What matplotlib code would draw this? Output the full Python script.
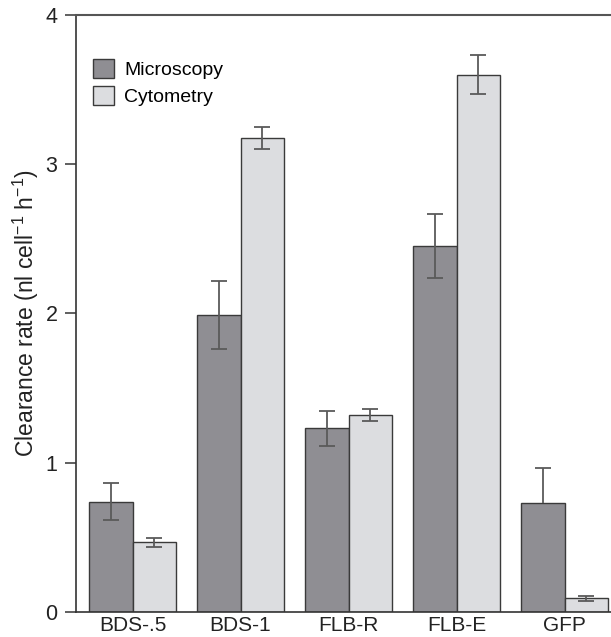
import matplotlib
matplotlib.use('Agg')
import matplotlib.pyplot as plt
import numpy as np

plt.rcParams['font.family'] = ['Liberation Sans', 'DejaVu Sans']
plt.rcParams['mathtext.fontset'] = 'custom'
plt.rcParams['mathtext.rm'] = 'Liberation Sans'
plt.rcParams['mathtext.it'] = 'Liberation Sans'

categories = ['BDS-.5', 'BDS-1', 'FLB-R', 'FLB-E', 'GFP']
microscopy = [0.74, 1.99, 1.23, 2.45, 0.73]
microscopy_err = [0.123, 0.23, 0.12, 0.215, 0.235]
cytometry = [0.467, 3.175, 1.322, 3.60, 0.092]
cytometry_err = [0.03, 0.073, 0.04, 0.13, 0.015]

fig = plt.figure(figsize=(6.11, 6.37), dpi=100)
ax = fig.add_axes([0.1236, 0.0392, 0.8764, 0.9373])

x = np.arange(len(categories))
w = 0.4
dark = '#8f8e93'
light = '#dcdde0'
edge = '#3a3a3a'
errc = '#5a5a5a'
ekw = dict(fmt='none', ecolor=errc, elinewidth=1.3, capsize=5.5, capthick=1.3, zorder=3)

ax.bar(x - w / 2, microscopy, w, color=dark, edgecolor=edge, linewidth=1.0,
       label='Microscopy', zorder=2)
ax.bar(x + w / 2, cytometry, w, color=light, edgecolor=edge, linewidth=1.0,
       label='Cytometry', zorder=2)

# first four microscopy bars: full error bars
ax.errorbar(x[:-1] - w / 2, microscopy[:-1], yerr=microscopy_err[:-1], **ekw)
# GFP microscopy: upper half only
eb = ax.errorbar(x[-1:] - w / 2, microscopy[-1:], yerr=[[0], microscopy_err[-1:]], **ekw)
eb[1][0].set_visible(False)
ax.errorbar(x + w / 2, cytometry, yerr=cytometry_err, **ekw)

ax.set_xlim(-0.528, 4.43)
ax.set_ylim(0, 4)
ax.set_yticks([0, 1, 2, 3, 4])
ax.set_xticks(x)
ax.set_xticklabels(categories)
ax.tick_params(axis='x', length=0, pad=3, labelsize=15, labelcolor='#222222')
ax.tick_params(axis='y', length=8, width=1.2, pad=5, labelsize=15.5,
               colors='#444444', labelcolor='#222222', direction='out')

ax.spines['right'].set_visible(False)
for s in ['left', 'bottom']:
    ax.spines[s].set_color('#333333')
    ax.spines[s].set_linewidth(1.2)
ax.spines['top'].set_color('#555555')
ax.spines['top'].set_linewidth(1.5)

ax.set_ylabel('Clearance rate (nl cell$^{-1}$ h$^{-1}$)', fontsize=16.5,
              color='#222222', labelpad=3)

ax.legend(loc='upper left', bbox_to_anchor=(0.0, 0.955), frameon=False,
          fontsize=14, handlelength=1.1, handleheight=1.1,
          handletextpad=0.5, labelspacing=0.35)

fig.savefig('out.png', dpi=100)
